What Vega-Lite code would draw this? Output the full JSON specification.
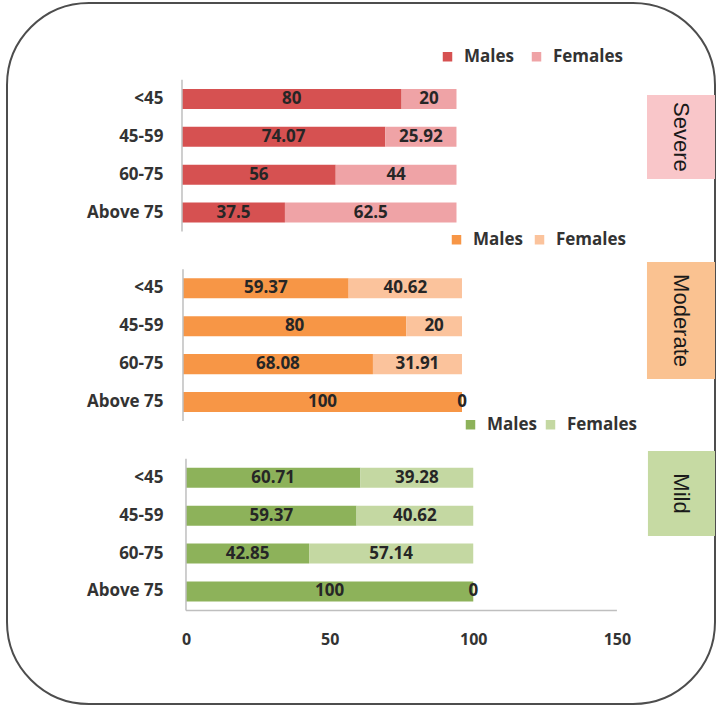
{
  "$schema": "https://vega.github.io/schema/vega-lite/v6.json",
  "width": 708,
  "height": 701,
  "autosize": {"type": "none"},
  "padding": {"left": 7, "top": 3, "right": 8, "bottom": 9},
  "config": {
    "view": {"stroke": "#4d4d4d", "strokeWidth": 2, "cornerRadius": 82, "fill": "#ffffff"},
    "font": "Open Sans",
    "axisY": {
      "domain": false, "ticks": false, "grid": false,
      "offset": -173, "labelPadding": 17,
      "labelExpr": "indexof(datum.value, '|') > 0 ? split(datum.value, '|')[1] : ''",
      "labelFont": "Open Sans", "labelFontSize": 17, "labelFontWeight": "bold", "labelColor": "#333333", "labelAngle": 0
    }
  },
  "datasets": {
    "bars": [
      {"level": "Severe", "age": "<45", "sex": "Males", "value": 80},
      {"level": "Severe", "age": "<45", "sex": "Females", "value": 20},
      {"level": "Severe", "age": "45-59", "sex": "Males", "value": 74.07},
      {"level": "Severe", "age": "45-59", "sex": "Females", "value": 25.92},
      {"level": "Severe", "age": "60-75", "sex": "Males", "value": 56},
      {"level": "Severe", "age": "60-75", "sex": "Females", "value": 44},
      {"level": "Severe", "age": "Above 75", "sex": "Males", "value": 37.5},
      {"level": "Severe", "age": "Above 75", "sex": "Females", "value": 62.5},
      {"level": "Moderate", "age": "<45", "sex": "Males", "value": 59.37},
      {"level": "Moderate", "age": "<45", "sex": "Females", "value": 40.62},
      {"level": "Moderate", "age": "45-59", "sex": "Males", "value": 80},
      {"level": "Moderate", "age": "45-59", "sex": "Females", "value": 20},
      {"level": "Moderate", "age": "60-75", "sex": "Males", "value": 68.08},
      {"level": "Moderate", "age": "60-75", "sex": "Females", "value": 31.91},
      {"level": "Moderate", "age": "Above 75", "sex": "Males", "value": 100},
      {"level": "Moderate", "age": "Above 75", "sex": "Females", "value": 0},
      {"level": "Mild", "age": "<45", "sex": "Males", "value": 60.71},
      {"level": "Mild", "age": "<45", "sex": "Females", "value": 39.28},
      {"level": "Mild", "age": "45-59", "sex": "Males", "value": 59.37},
      {"level": "Mild", "age": "45-59", "sex": "Females", "value": 40.62},
      {"level": "Mild", "age": "60-75", "sex": "Males", "value": 42.85},
      {"level": "Mild", "age": "60-75", "sex": "Females", "value": 57.14},
      {"level": "Mild", "age": "Above 75", "sex": "Males", "value": 100},
      {"level": "Mild", "age": "Above 75", "sex": "Females", "value": 0}
    ],
    "panels": [
      {"level": "Severe", "first": "Severe|<45", "last": "Severe|Above 75", "label": "Severe"},
      {"level": "Moderate", "first": "Moderate|<45", "last": "Moderate|Above 75", "label": "Moderate"},
      {"level": "Mild", "first": "Mild|<45", "last": "Mild|Above 75", "label": "Mild"}
    ]
  },
  "resolve": {
    "scale": {"x": "independent", "color": "independent"},
    "axis": {"x": "independent"},
    "legend": {"color": "independent"}
  },
  "layer": [
    {
      "layer": [
        {
          "data": {"name": "bars"},
          "transform": [
            {"filter": "datum.level == 'Severe'"},
            {"calculate": "datum.level + '|' + datum.age", "as": "key"}
          ],
          "mark": {"type": "bar"},
          "encoding": {
            "y": {
              "field": "key", "type": "nominal", "title": null,
              "scale": {
                "domain": ["t1", "t2", "Severe|<45", "Severe|45-59", "Severe|60-75", "Severe|Above 75", "g1", "Moderate|<45", "Moderate|45-59", "Moderate|60-75", "Moderate|Above 75", "g2", "Mild|<45", "Mild|45-59", "Mild|60-75", "Mild|Above 75", "b1", "b2"],
                "paddingInner": 0.472, "paddingOuter": 0.486, "align": 0.274
              }
            },
            "x": {"field": "value", "type": "quantitative", "stack": "zero", "scale": {"domain": [-63.75, 194.17], "nice": false, "zero": false}, "axis": null},
            "color": {
              "field": "sex", "type": "nominal",
              "scale": {"domain": ["Males", "Females"], "range": ["#D65151", "#EFA3A6"]},
              "legend": {"orient": "none", "legendX": 432, "legendY": 45, "direction": "horizontal", "title": null, "symbolType": "square", "symbolSize": 90, "symbolStrokeWidth": 0, "labelFont": "Open Sans", "labelFontSize": 17, "labelFontWeight": "bold", "labelColor": "#333333", "labelOffset": 8, "columnPadding": 14, "padding": 0}
            },
            "order": {"field": "sex", "sort": "descending"}
          }
        },
        {
          "data": {"name": "bars"},
          "transform": [
            {"filter": "datum.level == 'Severe'"},
            {"calculate": "datum.level + '|' + datum.age", "as": "key"}
          ],
          "mark": {"type": "text", "font": "Open Sans", "fontSize": 17, "fontWeight": "bold", "color": "#262626", "baseline": "middle"},
          "encoding": {
            "y": {"field": "key", "type": "nominal", "title": null},
            "x": {"field": "value", "type": "quantitative", "stack": "zero", "bandPosition": 0.5, "axis": null},
            "detail": {"field": "sex"},
            "order": {"field": "sex", "sort": "descending"},
            "text": {"field": "value", "type": "nominal"}
          }
        },
        {
          "data": {"name": "panels"},
          "transform": [{"filter": "datum.level == 'Severe'"}],
          "mark": {"type": "rule", "color": "#BFBFBF", "strokeWidth": 1.5},
          "encoding": {
            "x": {"datum": 0, "type": "quantitative", "axis": null},
            "y": {"field": "first", "type": "nominal", "bandPosition": -0.45, "title": null},
            "y2": {"field": "last", "bandPosition": 1.45}
          }
        },
        {
          "data": {"name": "panels"},
          "transform": [{"filter": "datum.level == 'Severe'"}],
          "mark": {"type": "rect", "fill": "#F9C6C9"},
          "encoding": {
            "x": {"datum": 169.4, "type": "quantitative", "axis": null},
            "x2": {"datum": 194.17},
            "y": {"field": "first", "type": "nominal", "bandPosition": 0.306, "title": null},
            "y2": {"field": "last", "bandPosition": -1.175}
          }
        },
        {
          "data": {"name": "panels"},
          "transform": [{"filter": "datum.level == 'Severe'"}],
          "mark": {"type": "text", "font": "Liberation Sans", "fontSize": 22, "angle": 90, "color": "#1a1a1a", "align": "center", "baseline": "middle"},
          "encoding": {
            "x": {"datum": 181.8, "type": "quantitative", "axis": null},
            "y": {"field": "first", "type": "nominal", "bandPosition": 2.4, "title": null},
            "text": {"field": "label"}
          }
        }
      ]
    },
    {
      "layer": [
        {
          "data": {"name": "bars"},
          "transform": [
            {"filter": "datum.level == 'Moderate'"},
            {"calculate": "datum.level + '|' + datum.age", "as": "key"}
          ],
          "mark": {"type": "bar"},
          "encoding": {
            "y": {"field": "key", "type": "nominal", "title": null},
            "x": {"field": "value", "type": "quantitative", "stack": "zero", "scale": {"domain": [-63.08, 190.68], "nice": false, "zero": false}, "axis": null},
            "color": {
              "field": "sex", "type": "nominal",
              "scale": {"domain": ["Males", "Females"], "range": ["#F79646", "#FBC39C"]},
              "legend": {"orient": "none", "legendX": 441, "legendY": 228, "direction": "horizontal", "title": null, "symbolType": "square", "symbolSize": 90, "symbolStrokeWidth": 0, "labelFont": "Open Sans", "labelFontSize": 17, "labelFontWeight": "bold", "labelColor": "#333333", "labelOffset": 8, "columnPadding": 8, "padding": 0}
            },
            "order": {"field": "sex", "sort": "descending"}
          }
        },
        {
          "data": {"name": "bars"},
          "transform": [
            {"filter": "datum.level == 'Moderate'"},
            {"calculate": "datum.level + '|' + datum.age", "as": "key"}
          ],
          "mark": {"type": "text", "font": "Open Sans", "fontSize": 17, "fontWeight": "bold", "color": "#262626", "baseline": "middle"},
          "encoding": {
            "y": {"field": "key", "type": "nominal", "title": null},
            "x": {"field": "value", "type": "quantitative", "stack": "zero", "bandPosition": 0.5, "axis": null},
            "detail": {"field": "sex"},
            "order": {"field": "sex", "sort": "descending"},
            "text": {"field": "value", "type": "nominal"}
          }
        },
        {
          "data": {"name": "panels"},
          "transform": [{"filter": "datum.level == 'Moderate'"}],
          "mark": {"type": "rule", "color": "#BFBFBF", "strokeWidth": 1.5},
          "encoding": {
            "x": {"datum": 0, "type": "quantitative", "axis": null},
            "y": {"field": "first", "type": "nominal", "bandPosition": -0.45, "title": null},
            "y2": {"field": "last", "bandPosition": 1.45}
          }
        },
        {
          "data": {"name": "panels"},
          "transform": [{"filter": "datum.level == 'Moderate'"}],
          "mark": {"type": "rect", "fill": "#FAC291"},
          "encoding": {
            "x": {"datum": 166.3, "type": "quantitative", "axis": null},
            "x2": {"datum": 190.68},
            "y": {"field": "first", "type": "nominal", "bandPosition": -0.815, "title": null},
            "y2": {"field": "last", "bandPosition": -0.65}
          }
        },
        {
          "data": {"name": "panels"},
          "transform": [{"filter": "datum.level == 'Moderate'"}],
          "mark": {"type": "text", "font": "Liberation Sans", "fontSize": 22, "angle": 90, "color": "#1a1a1a", "align": "center", "baseline": "middle"},
          "encoding": {
            "x": {"datum": 178.5, "type": "quantitative", "axis": null},
            "y": {"field": "first", "type": "nominal", "bandPosition": 2.11, "title": null},
            "text": {"field": "label"}
          }
        }
      ]
    },
    {
      "layer": [
        {
          "data": {"name": "bars"},
          "transform": [
            {"filter": "datum.level == 'Mild'"},
            {"calculate": "datum.level + '|' + datum.age", "as": "key"}
          ],
          "mark": {"type": "bar"},
          "encoding": {
            "y": {"field": "key", "type": "nominal", "title": null},
            "x": {
              "field": "value", "type": "quantitative", "stack": "zero", "title": null,
              "scale": {"domain": [-62.3, 184.14], "nice": false, "zero": false},
              "axis": {"values": [0, 50, 100, 150], "domain": false, "ticks": false, "grid": false, "offset": -93, "labelPadding": 20, "labelFont": "Open Sans", "labelFontSize": 16, "labelFontWeight": "bold", "labelColor": "#333333", "labelFlush": false}
            },
            "color": {
              "field": "sex", "type": "nominal",
              "scale": {"domain": ["Males", "Females"], "range": ["#8DB25A", "#C4D8A2"]},
              "legend": {"orient": "none", "legendX": 455, "legendY": 413, "direction": "horizontal", "title": null, "symbolType": "square", "symbolSize": 90, "symbolStrokeWidth": 0, "labelFont": "Open Sans", "labelFontSize": 17, "labelFontWeight": "bold", "labelColor": "#333333", "labelOffset": 8, "columnPadding": 5, "padding": 0}
            },
            "order": {"field": "sex", "sort": "descending"}
          }
        },
        {
          "data": {"name": "bars"},
          "transform": [
            {"filter": "datum.level == 'Mild'"},
            {"calculate": "datum.level + '|' + datum.age", "as": "key"}
          ],
          "mark": {"type": "text", "font": "Open Sans", "fontSize": 17, "fontWeight": "bold", "color": "#262626", "baseline": "middle"},
          "encoding": {
            "y": {"field": "key", "type": "nominal", "title": null},
            "x": {
              "field": "value", "type": "quantitative", "stack": "zero", "bandPosition": 0.5, "title": null,
              "axis": {"values": [0, 50, 100, 150], "domain": false, "ticks": false, "grid": false, "offset": -93, "labelPadding": 20, "labelFont": "Open Sans", "labelFontSize": 16, "labelFontWeight": "bold", "labelColor": "#333333", "labelFlush": false}
            },
            "detail": {"field": "sex"},
            "order": {"field": "sex", "sort": "descending"},
            "text": {"field": "value", "type": "nominal"}
          }
        },
        {
          "data": {"name": "panels"},
          "transform": [{"filter": "datum.level == 'Mild'"}],
          "mark": {"type": "rule", "color": "#BFBFBF", "strokeWidth": 1.5},
          "encoding": {
            "x": {
              "datum": 0, "type": "quantitative", "title": null,
              "axis": {"values": [0, 50, 100, 150], "domain": false, "ticks": false, "grid": false, "offset": -93, "labelPadding": 20, "labelFont": "Open Sans", "labelFontSize": 16, "labelFontWeight": "bold", "labelColor": "#333333", "labelFlush": false}
            },
            "y": {"field": "first", "type": "nominal", "bandPosition": -0.45, "title": null},
            "y2": {"field": "last", "bandPosition": 1.45}
          }
        },
        {
          "data": {"name": "panels"},
          "transform": [{"filter": "datum.level == 'Mild'"}],
          "mark": {"type": "rule", "color": "#BFBFBF", "strokeWidth": 1.5},
          "encoding": {
            "x": {
              "datum": 0, "type": "quantitative", "title": null,
              "axis": {"values": [0, 50, 100, 150], "domain": false, "ticks": false, "grid": false, "offset": -93, "labelPadding": 20, "labelFont": "Open Sans", "labelFontSize": 16, "labelFontWeight": "bold", "labelColor": "#333333", "labelFlush": false}
            },
            "x2": {"datum": 150},
            "y": {"field": "last", "type": "nominal", "bandPosition": 1.45, "title": null}
          }
        },
        {
          "data": {"name": "panels"},
          "transform": [{"filter": "datum.level == 'Mild'"}],
          "mark": {"type": "rect", "fill": "#C6DAA3"},
          "encoding": {
            "x": {
              "datum": 160.8, "type": "quantitative", "title": null,
              "axis": {"values": [0, 50, 100, 150], "domain": false, "ticks": false, "grid": false, "offset": -93, "labelPadding": 20, "labelFont": "Open Sans", "labelFontSize": 16, "labelFontWeight": "bold", "labelColor": "#333333", "labelFlush": false}
            },
            "x2": {"datum": 184.14},
            "y": {"field": "first", "type": "nominal", "bandPosition": -0.84, "title": null},
            "y2": {"field": "last", "bandPosition": -2.27}
          }
        },
        {
          "data": {"name": "panels"},
          "transform": [{"filter": "datum.level == 'Mild'"}],
          "mark": {"type": "text", "font": "Liberation Sans", "fontSize": 22, "angle": 90, "color": "#1a1a1a", "align": "center", "baseline": "middle"},
          "encoding": {
            "x": {
              "datum": 172.3, "type": "quantitative", "title": null,
              "axis": {"values": [0, 50, 100, 150], "domain": false, "ticks": false, "grid": false, "offset": -93, "labelPadding": 20, "labelFont": "Open Sans", "labelFontSize": 16, "labelFontWeight": "bold", "labelColor": "#333333", "labelFlush": false}
            },
            "y": {"field": "first", "type": "nominal", "bandPosition": 1.285, "title": null},
            "text": {"field": "label"}
          }
        }
      ]
    }
  ]
}
